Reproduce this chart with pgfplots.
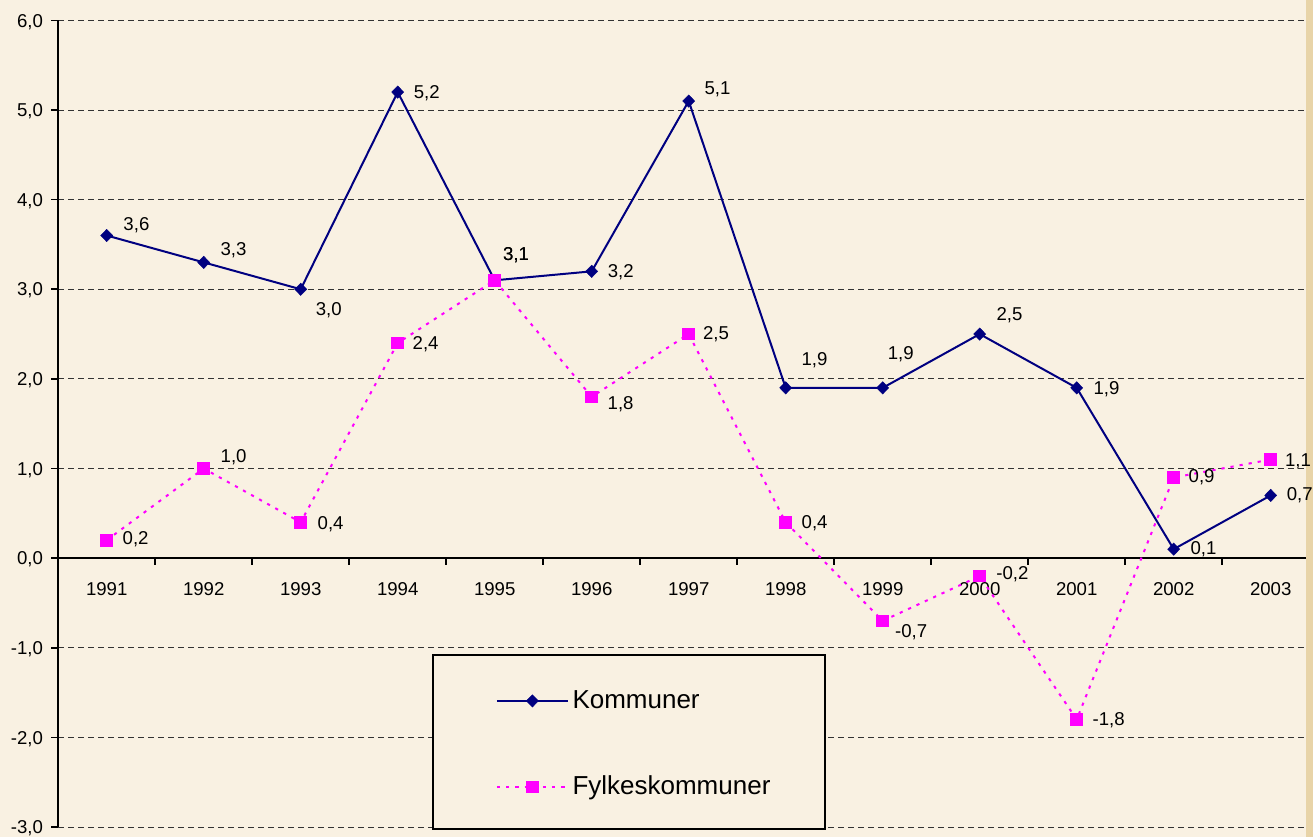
\documentclass[border=0pt]{standalone}
\usepackage{fontspec}
\setmainfont{Liberation Sans}
\usepackage{pgfplots}
\pgfplotsset{compat=1.18}
\definecolor{cream}{RGB}{249,241,226}
\definecolor{tanstrip}{RGB}{232,212,168}
\definecolor{navyk}{RGB}{0,0,128}
\definecolor{mag}{RGB}{255,0,255}
\begin{document}
\begin{tikzpicture}
\fill[cream] (0,0) rectangle (656.5bp,418.5bp);
\fill[tanstrip] (653bp,0) rectangle (656.5bp,418.5bp);
\begin{axis}[
  at={(29.1bp,5bp)}, anchor=south west,
  scale only axis, width=623.9bp, height=403.3bp,
  xmin=-0.5, xmax=12.364, ymin=-3, ymax=6,
  axis x line=middle, axis y line=left,
  axis line style={-, black, line width=1bp},
  hide obscured x ticks=false, hide obscured y ticks=false,
  clip=false,
  font=\fontsize{9.3bp}{11bp}\selectfont,
  tick align=outside,
  major tick length=3.5bp, minor tick length=3.4bp,
  tick style={black, line width=0.8bp},
  xtick={0,...,12},
  xticklabels={1991,1992,1993,1994,1995,1996,1997,1998,1999,2000,2001,2002,2003},
  minor xtick={0.5,1.5,...,11.5},
  major x tick style={draw=none},
  ytick={-3,...,6},
  yticklabels={{-3,0},{-2,0},{-1,0},{0,0},{1,0},{2,0},{3,0},{4,0},{5,0},{6,0}},
  xticklabel style={anchor=north, inner sep=0pt, text height=6.66bp, text depth=0pt, yshift=-8.15bp},
  yticklabel style={anchor=east, inner sep=0pt, text height=6.66bp, text depth=0pt, xshift=-3.95bp},
  ymajorgrids,
  grid style={dash pattern=on 2.8bp off 2.2bp, black!80, line width=0.5bp},
  legend style={at={(0.2998,0.2141)}, anchor=north west, draw=black, line width=1bp, fill=cream,
    inner xsep=0pt, inner ysep=17.35bp, row sep=33.7bp, column sep=1.8bp,
    font=\fontsize{13bp}{15bp}\selectfont,
    nodes={inner sep=0pt, text height=9.3bp, text depth=0pt, text width=126bp, align=left}},
  legend cell align=left,
  legend image code/.code={
    \path[draw=none, fill=none] (0bp,0bp) -- (67.3bp,0bp);
    \draw[mark repeat=2, mark phase=2] plot coordinates {(31.8bp,-0.8bp) (49.55bp,-0.8bp) (67.3bp,-0.8bp)};
  },
  point meta=explicit symbolic,
  nodes near coords,
  visualization depends on={value \thisrow{dx}\as\mydx},
  visualization depends on={value \thisrow{dy}\as\mydy},
  nodes near coords style={text=black, anchor=west, inner sep=0pt, text height=6.66bp, text depth=0pt,
    xshift=\mydx bp, yshift=\mydy bp, font=\fontsize{9.3bp}{11bp}\selectfont},
]
\addplot[navyk, line width=1bp, mark=diamond*, mark size=3.1bp,
  mark options={solid, xscale=1.3, fill=navyk, line width=0.2bp}]
  table[x=x, y=y, meta=lab] {
x y lab dx dy
0 3.6 3,6 8.3 5.65
1 3.3 3,3 8.35 7
2 3.0 3,0 7.5 -9.75
3 5.2 5,2 8 0.3
4 3.1 3,1 4.15 13
5 3.2 3,2 8 0.3
6 5.1 5,1 7.85 6.85
7 1.9 1,9 7.85 14.5
8 1.9 1,9 2.5 17.75
9 2.5 2,5 8.35 10.15
10 1.9 1,9 8.3 0
11 0.1 0,1 8.35 0.75
12 0.7 0,7 8 0.6
};
\addlegendentry{Kommuner}
\addplot[mag, line width=1bp, dash pattern=on 1.6bp off 3bp, mark=square*, mark size=2.9bp,
  mark options={solid, fill=mag, line width=0pt}]
  table[x=x, y=y, meta=lab] {
x y lab dx dy
0 0.2 0,2 8 1
1 1.0 1,0 8.5 6.5
2 0.4 0,4 8.5 -0.5
3 2.4 2,4 7.5 0
4 3.1 3,1 4.15 13
5 1.8 1,8 8 -2.85
6 2.5 2,5 7.15 0.5
7 0.4 0,4 8 0
8 -0.7 -0,7 6.2 -5.15
9 -0.2 -0,2 8.35 1.7
10 -1.8 -1,8 8 0.25
11 0.9 0,9 7.5 0.65
12 1.1 1,1 7.2 0
};
\addlegendentry{Fylkeskommuner}
\end{axis}
\end{tikzpicture}
\end{document}
